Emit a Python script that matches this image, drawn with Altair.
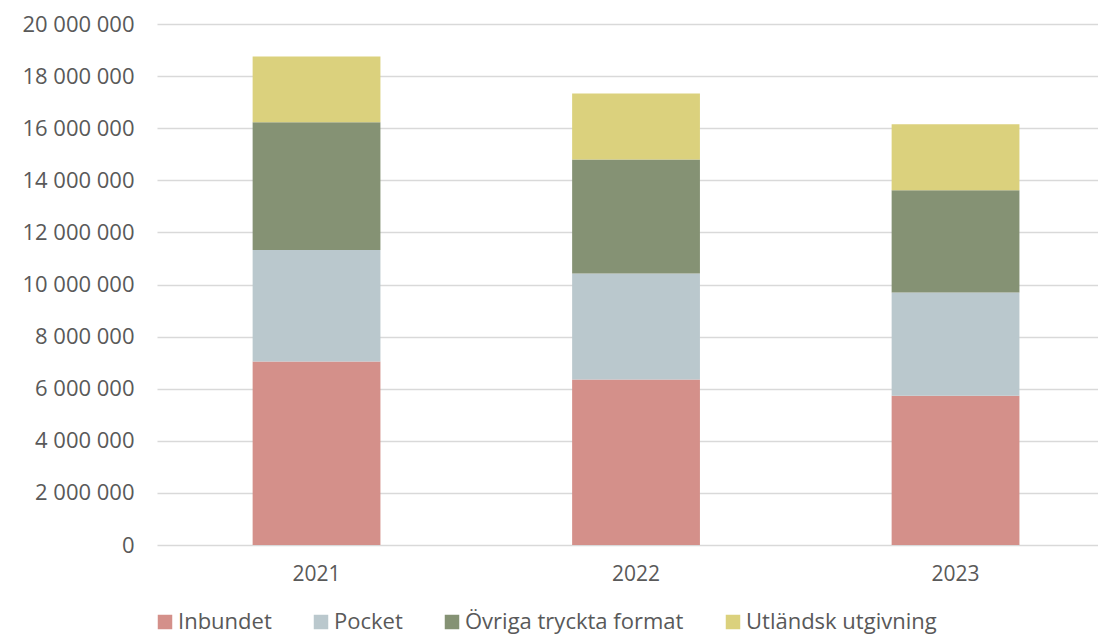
import altair as alt
import pandas as pd

years = ["2021", "2022", "2023"]
categories = ["Inbundet", "Pocket", "Övriga tryckta format", "Utländsk utgivning"]
inbundet = [7040000, 6350000, 5730000]
pocket = [4280000, 4070000, 3960000]
ovriga = [4910000, 4380000, 3930000]
utlandsk = [2520000, 2530000, 2530000]
colors = ["#D4908A", "#BAC8CD", "#859274", "#DBD17D"]
y_ticks = list(range(0, 20000001, 2000000))

series = [inbundet, pocket, ovriga, utlandsk]
rows = []
for ci, (cat, vals) in enumerate(zip(categories, series)):
    for yr, v in zip(years, vals):
        rows.append({"year": yr, "format": cat, "value": v, "ord": ci})
df = pd.DataFrame(rows)

FONT = "Open Sans"
TXT = "#595959"

chart = alt.Chart(df).mark_bar().encode(
    x=alt.X("year:N", title=None, sort=years,
            scale=alt.Scale(paddingInner=0.6, paddingOuter=0.2726, align=0.549),
            axis=alt.Axis(labelAngle=0, domain=False, ticks=False, grid=False,
                          labelPadding=18, labelFontSize=21, labelColor=TXT, labelFont=FONT)),
    y=alt.Y("value:Q", title=None, stack="zero",
            scale=alt.Scale(domain=[0, 20000000], nice=False),
            axis=alt.Axis(values=y_ticks, domain=False, ticks=False,
                          labelExpr="replace(format(datum.value, ','), /,/g, ' ')",
                          labelPadding=23, labelFontSize=22, labelColor=TXT, labelFont=FONT,
                          gridColor="#D9D9D9", gridWidth=1.5)),
    color=alt.Color("format:N", sort=categories,
                    scale=alt.Scale(domain=categories, range=colors),
                    legend=alt.Legend(title=None, orient="none", direction="horizontal",
                                      columns=4, legendX=-3, legendY=587, padding=0,
                                      symbolType="square", symbolSize=210, symbolStrokeWidth=0,
                                      labelOffset=2, columnPadding=38, labelLimit=0,
                                      labelFontSize=22, labelColor=TXT, labelFont=FONT)),
    order=alt.Order("ord:Q", sort="ascending"),
).properties(
    width=941, height=521,
    autosize=alt.AutoSizeParams(type="none"),
    padding={"left": 149, "top": 16, "right": 0, "bottom": 89},
).configure_view(stroke=None)

chart.save("out.html", embed_options={"renderer": "svg", "actions": False})
